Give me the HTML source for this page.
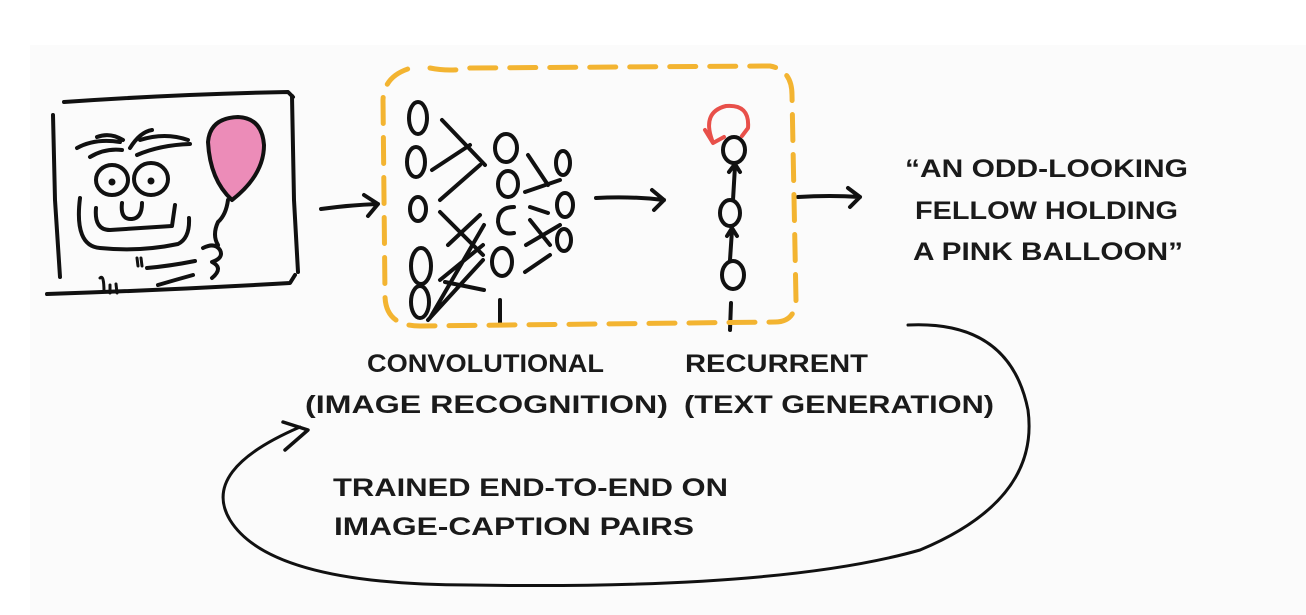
<!DOCTYPE html>
<html><head><meta charset="utf-8"><style>
html,body{margin:0;padding:0;background:#fff;}
svg{display:block}
text{font-family:"Liberation Sans",sans-serif;fill:#1a1a1a;font-size:25px;font-weight:bold;}
</style></head><body>
<svg width="1306" height="615" viewBox="0 0 1306 615" xmlns="http://www.w3.org/2000/svg">
<rect x="30" y="45" width="1276" height="570" fill="#fbfbfb"/>
<g fill="none" stroke="#111" stroke-width="4" stroke-linecap="round" stroke-linejoin="round">
<!-- picture frame -->
<path d="M64 102 Q180 94 288 92 L293 97"/>
<path d="M292 96 L294 200 L298 272"/>
<path d="M53 115 L55 200 L60 277"/>
<path d="M47 294 Q170 290 290 283 L295 275"/>
<!-- face -->
<path d="M77 148 Q95 138 120 142 M90 157 Q105 148 122 150 M97 137 Q110 132 123 140 M130 148 Q140 132 152 130 M137 155 Q160 145 190 144 M140 140 Q165 132 188 140"/>
<ellipse cx="112" cy="180" rx="16" ry="15"/><ellipse cx="151" cy="179" rx="17" ry="16"/>
<circle cx="112" cy="182" r="1.5" fill="#111"/><circle cx="151" cy="181" r="1.5" fill="#111"/>
<path d="M122 203 Q120 220 132 219 Q142 218 142 203"/>
<path d="M96 208 Q94 230 110 230 Q140 228 172 226 L175 205"/>
<path d="M80 198 Q74 246 100 248 Q140 252 178 244 Q190 238 189 218"/>
<!-- balloon -->
<path d="M208 142 Q210 118 238 117 Q262 118 264 145 Q264 175 232 200 Q210 180 208 142Z" fill="#ec8cb8" stroke="#111"/>
<path d="M228 200 Q226 215 218 222 Q212 235 218 245"/>
<path d="M203 248 Q215 242 220 250 Q224 258 212 262 Q224 268 212 278 M147 268 Q170 266 195 261 M158 285 Q175 280 193 275"/>
<path d="M137 258 L138 266 M141 258 L142 266" stroke-width="3"/>
<path d="M100 278 Q104 274 104 292 M110 285 L110 293 M116 284 L117 293" stroke-width="3"/>
<!-- arrows -->
<path d="M321 209 Q350 205 378 204 M364 195 L378 204 L368 216"/>
<path d="M596 198 Q630 196 664 200 M652 190 L664 200 L654 210"/>
<path d="M798 197 Q830 195 860 197 M848 188 L860 197 L850 207"/>
<!-- CNN nodes -->
<ellipse cx="418" cy="118" rx="9" ry="16"/>
<ellipse cx="416" cy="162" rx="9" ry="15"/>
<ellipse cx="418" cy="209" rx="8" ry="12"/>
<ellipse cx="421" cy="266" rx="10" ry="18"/>
<ellipse cx="420" cy="302" rx="9" ry="16"/>
<ellipse cx="506" cy="148" rx="11" ry="14"/>
<ellipse cx="508" cy="184" rx="10" ry="13"/>
<path d="M514 207 Q498 207 498 222 Q500 236 514 233"/>
<ellipse cx="502" cy="262" rx="10" ry="14"/>
<ellipse cx="563" cy="163" rx="7" ry="12"/>
<ellipse cx="565" cy="205" rx="8" ry="12"/>
<ellipse cx="564" cy="240" rx="7" ry="11"/>
<path d="M442 120 L485 165 M432 170 L470 145 M440 212 L483 255 M440 200 L480 165 M448 245 L480 215 M440 280 L483 245 M430 318 L484 225 M428 320 L483 260 M445 282 L484 290 M528 155 L548 185 M525 192 L560 180 M530 207 L548 213 M530 220 L550 245 M526 245 L560 225 M525 272 L550 255"/>
<path d="M500 300 L500 325"/>
<!-- RNN -->
<ellipse cx="734" cy="150" rx="11" ry="13"/>
<ellipse cx="730" cy="213" rx="10" ry="13"/>
<ellipse cx="733" cy="275" rx="11" ry="14"/>
<path d="M733 200 L735 166 M729 172 L735 164 L740 172 M730 260 L732 230 M727 236 L732 228 L737 236"/>
<path d="M731 303 L730 330"/>
<path d="M712 140 Q702 112 726 106 Q750 104 748 128 L742 136" stroke="#e8504a"/>
<path d="M705 130 L713 143 L724 137" stroke="#e8504a"/>
<!-- big loop -->
<path d="M908 325 Q1010 320 1028 410 Q1040 500 920 550 Q780 590 470 585 Q270 585 230 520 Q200 470 300 427" stroke-width="3"/>
<path d="M283 422 L308 430 L285 450" stroke-width="3.5"/>
</g>
<!-- dashed box -->
<path d="M430 68 Q450 72 470 68 L770 66 Q792 70 792 95 L796 300 Q795 322 775 322 L420 326 Q385 326 385 295 L383 100 Q384 72 420 66" fill="none" stroke="#f3b431" stroke-width="5" stroke-dasharray="26 14" stroke-linecap="round"/>
<!-- labels -->
<text x="367" y="372" textLength="237" lengthAdjust="spacingAndGlyphs">CONVOLUTIONAL</text>
<text x="305" y="413" textLength="363" lengthAdjust="spacingAndGlyphs">(IMAGE RECOGNITION)</text>
<text x="685" y="372" textLength="183" lengthAdjust="spacingAndGlyphs">RECURRENT</text>
<text x="684" y="413" textLength="310" lengthAdjust="spacingAndGlyphs">(TEXT GENERATION)</text>
<text x="905" y="177" textLength="283" lengthAdjust="spacingAndGlyphs">“AN ODD-LOOKING</text>
<text x="915" y="219" textLength="263" lengthAdjust="spacingAndGlyphs">FELLOW HOLDING</text>
<text x="913" y="260" textLength="270" lengthAdjust="spacingAndGlyphs">A PINK BALLOON”</text>
<text x="333" y="496" textLength="395" lengthAdjust="spacingAndGlyphs">TRAINED END-TO-END ON</text>
<text x="334" y="535" textLength="360" lengthAdjust="spacingAndGlyphs">IMAGE-CAPTION PAIRS</text>
</svg>
</body></html>
